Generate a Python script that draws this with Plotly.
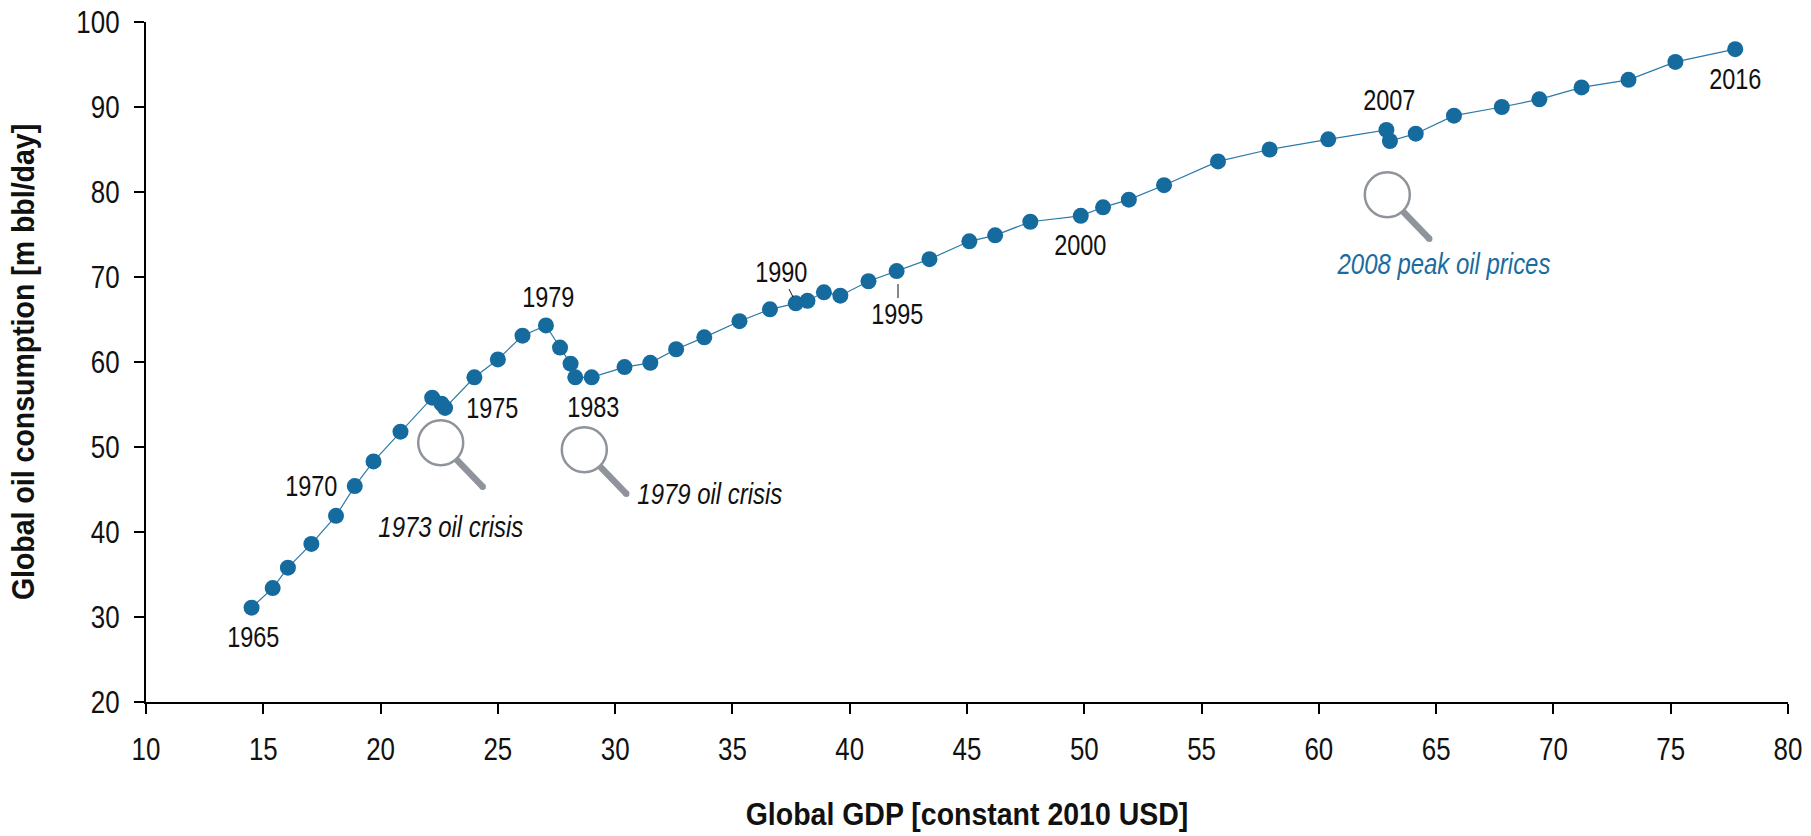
import plotly.graph_objects as go

years = list(range(1965, 2017))
gdp = [14.5, 15.4, 16.05, 17.05, 18.1, 18.9, 19.7, 20.85, 22.2, 22.6, 22.75, 24.0, 25.0, 26.05, 27.05, 27.65, 28.1, 28.3, 29.0, 30.4,
       31.5, 32.6, 33.8, 35.3, 36.6, 37.7, 38.2, 38.9, 39.6, 40.8, 42.0, 43.4, 45.1, 46.2, 47.7, 49.85, 50.8, 51.9, 53.4, 55.7,
       57.9, 60.4, 62.88, 63.03, 64.13, 65.76, 67.8, 69.4, 71.2, 73.2, 75.2, 77.75]
oil = [31.1, 33.4, 35.8, 38.6, 41.9, 45.4, 48.3, 51.8, 55.8, 55.1, 54.6, 58.2, 60.3, 63.1, 64.3, 61.7, 59.8, 58.2, 58.2, 59.4,
       59.9, 61.5, 62.9, 64.8, 66.2, 66.9, 67.2, 68.2, 67.8, 69.5, 70.7, 72.1, 74.2, 74.9, 76.5, 77.2, 78.2, 79.1, 80.8, 83.6,
       85.0, 86.2, 87.3, 86.0, 86.86, 88.98, 90.0, 90.9, 92.3, 93.2, 95.3, 96.8]

x_ticks = list(range(10, 81, 5))
y_ticks = list(range(20, 101, 10))
x_title = "Global GDP [constant 2010 USD]"
y_title = "Global oil consumption [m bbl/day]"

year_labels = ["1965", "1970", "1975", "1979", "1983", "1990", "1995", "2000", "2007", "2016"]
year_label_px = [(253, 637), (311, 486), (492, 408), (548, 297), (593, 407), (781, 272), (897, 314), (1080, 245), (1389, 100), (1735, 79)]
event_labels = ["1973 oil crisis", "1979 oil crisis", "2008 peak oil prices"]
event_label_px = [(451, 527), (710, 494), (1443, 264)]
event_colors = ["#111111", "#111111", "#1a6c9f"]
glass_centres = [(440.7, 442.7), (584.3, 449.7), (1387.3, 194.7)]
leaders = [((789, 289), (793, 297)), ((898, 284), (898, 298))]

W, H = 1811, 836
L, R, T, B = 146, 1788, 22, 702
FONT = "Liberation Sans"
BLUE = "#156a9e"
GREY = "#8f949b"


def px(x):
    return (x - L) / (R - L)


def py(y):
    return (B - y) / (B - T)


shapes = []
for cx, cy in glass_centres:
    shapes.append(dict(type="line", xref="paper", yref="paper", x0=px(cx + 15), y0=py(cy + 16), x1=px(cx + 42), y1=py(cy + 44),
                       line=dict(color=GREY, width=6.5)))
    shapes.append(dict(type="circle", xref="paper", yref="paper", x0=px(cx + 38.8), y0=py(cy + 40.8), x1=px(cx + 45.2), y1=py(cy + 47.2),
                       fillcolor=GREY, line=dict(color=GREY, width=0)))
    shapes.append(dict(type="circle", xref="paper", yref="paper", x0=px(cx - 22.5), y0=py(cy - 22.5), x1=px(cx + 22.5), y1=py(cy + 22.5),
                       fillcolor="white", line=dict(color=GREY, width=2.5)))
for (a, b) in leaders:
    shapes.append(dict(type="line", xref="paper", yref="paper", x0=px(a[0]), y0=py(a[1]), x1=px(b[0]), y1=py(b[1]),
                       line=dict(color="#111111", width=1)))

annotations = []
for t, (x, y) in zip(year_labels, year_label_px):
    annotations.append(dict(text=t, xref="paper", yref="paper", x=px(x), y=py(y), xanchor="center", yanchor="middle",
                            showarrow=False, font=dict(family=FONT, size=29, color="#111111")))
for t, (x, y), c in zip(event_labels, event_label_px, event_colors):
    annotations.append(dict(text=f"<i>{t}</i>", xref="paper", yref="paper", x=px(x), y=py(y), xanchor="center", yanchor="middle",
                            showarrow=False, font=dict(family=FONT, size=29, color=c)))

fig = go.Figure(go.Scatter(x=gdp, y=oil, text=years, mode="lines+markers", cliponaxis=False,
                           line=dict(color="#2a7aa8", width=1.2), marker=dict(color=BLUE, size=16)))

axis_common = dict(showgrid=False, zeroline=False, showline=True, linecolor="black", linewidth=2,
                   ticks="outside", ticklen=10, tickwidth=2, tickcolor="black", automargin=False,
                   ticklabelstandoff=8,
                   tickfont=dict(family=FONT, size=32, color="#111111"))

fig.update_layout(
    width=W, height=H, autosize=False, showlegend=False,
    paper_bgcolor="white", plot_bgcolor="white",
    margin=dict(l=L, r=W - R, t=T, b=H - B, pad=0),
    shapes=shapes, annotations=annotations,
    xaxis=dict(range=[10, 80], tickvals=x_ticks, ticktext=[str(v) for v in x_ticks],
               title=dict(text=f"<b>{x_title}</b>", font=dict(family=FONT, size=32, color="#111111")), **axis_common),
    yaxis=dict(range=[20, 100], tickvals=y_ticks, ticktext=[str(v) for v in y_ticks],
               title=dict(text=f"<b>{y_title}</b>", font=dict(family=FONT, size=32, color="#111111")), **axis_common),
)

# Liberation Sans stands in for the reference's narrow face: condense each text horizontally.
squeeze = """
document.body.style.margin='0';
document.querySelectorAll('.plotly-graph-div svg text').forEach(function(t){
  if(!t.textContent) return;
  var c=t.getAttribute('class')||'', f=0.81;
  if(c.indexOf('title')>=0) f=0.89;
  else if(c.indexOf('tick')>=0) f=0.815;
  else if(t.textContent.indexOf('crisis')>=0||t.textContent.indexOf('prices')>=0) f=0.825;
  var w=t.getComputedTextLength();
  t.setAttribute('textLength', w*f);
  t.setAttribute('lengthAdjust','spacingAndGlyphs');
});
var gx=document.querySelector('.g-xtitle'), gy=document.querySelector('.g-ytitle');
if(gx) gx.setAttribute('transform','translate(0,21)');
if(gy) gy.setAttribute('transform','translate(-7.5,0)');
"""
fig.write_html("out.html", post_script=squeeze, config={"displayModeBar": False})
